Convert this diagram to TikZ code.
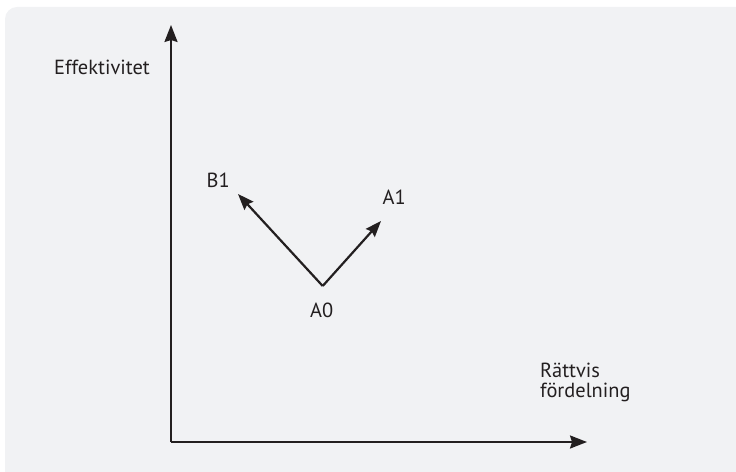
\documentclass[tikz,border=0pt]{standalone}
\usepackage{fontspec}
\setmainfont{PT Sans}
\usepackage{xcolor}
\usepackage{tikz}
\usetikzlibrary{arrows.meta}
\definecolor{inkdark}{HTML}{231F20}
\definecolor{panelgray}{HTML}{F1F2F4}
\tikzset{
  panel/.style={fill=panelgray, draw=none},
  axisline/.style={line width=2.2bp, draw=inkdark, line cap=butt,
    -{Stealth[length=17bp, width=13bp, inset=2bp]}},
  moveline/.style={line width=2.2bp, draw=inkdark, line cap=butt,
    -{Stealth[length=16bp, width=12bp, inset=2bp]}},
  axlabel/.style={text=inkdark, inner sep=0pt, anchor=base west,
    font=\fontsize{20.5}{24}\selectfont},
}
\begin{document}
\begin{tikzpicture}[x=1bp, y=-1bp]
\useasboundingbox (0,0) rectangle (736,472);
\fill[panel] (5,472) -- (5,19) arc[start angle=180, end angle=270, radius=12]
  -- (736,7) -- (736,472) -- cycle;
% axes
\coordinate (origin) at (171,442);
\coordinate (ytip) at (171,25);
\coordinate (xtip) at (587,442);
\draw[axisline] (origin) -- (ytip);
\draw[axisline] (origin) -- (xtip);
\node[axlabel] (effekt) at (54,75) {Effektivitet};
\node[axlabel] (rattvis) at (540,377) {Rättvis};
\node[axlabel] (fordel) at (540,397) {fördelning};
% points
\coordinate (a0) at (322.7,286);
\coordinate (b1tip) at (238,194);
\coordinate (a1tip) at (381,221);
\draw[moveline] (a0) -- (b1tip);
\draw[moveline] (a0) -- (a1tip);
\node[axlabel] (b1) at (206.5,188) {B1};
\node[axlabel] (a1) at (382.5,205) {A1};
\node[axlabel] (a0lbl) at (310,318) {A0};
\end{tikzpicture}
\end{document}
